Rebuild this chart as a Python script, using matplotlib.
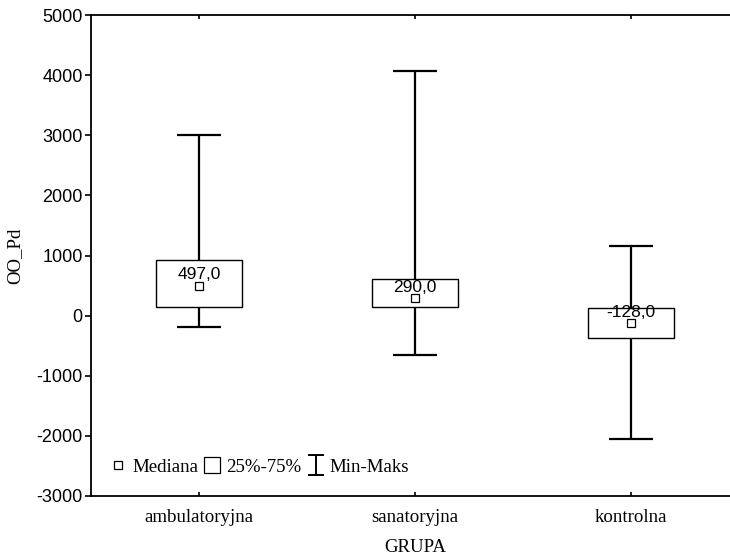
import matplotlib
matplotlib.use("Agg")
import matplotlib.pyplot as plt
import numpy as np
from matplotlib.lines import Line2D
from matplotlib.path import Path

plt.rcParams['axes.unicode_minus'] = False

categories = ["ambulatoryjna", "sanatoryjna", "kontrolna"]
mins = [-185, -656, -2050]
q1 = [138, 138, -376]
medians = [497, 290, -128]
q3 = [925, 604, 131]
maxs = [3000, 4070, 1163]
yticks = [-3000, -2000, -1000, 0, 1000, 2000, 3000, 4000, 5000]

SERIF = "Liberation Serif"
SANS = "Liberation Sans"

fig = plt.figure(figsize=(7.3, 5.56), dpi=100)
ax = fig.add_axes([91/730, 60/556, 648/730, 481/556])

pos = np.arange(1, len(categories) + 1)
mins_a, q1_a, med_a, q3_a, maxs_a = map(np.array, (mins, q1, medians, q3, maxs))

# whiskers
ax.vlines(pos, mins_a, maxs_a, color="black", lw=1.6, zorder=1)
ax.hlines(mins_a, pos - 0.1, pos + 0.1, color="black", lw=1.6, zorder=1)
ax.hlines(maxs_a, pos - 0.1, pos + 0.1, color="black", lw=1.6, zorder=1)
# boxes
ax.bar(pos, q3_a - q1_a, bottom=q1_a, width=0.4, facecolor="white",
       edgecolor="black", lw=1.0, zorder=2)
# medians
ax.plot(pos, med_a, "s", ls="none", mfc="white", mec="black", mew=0.9, ms=5.5, zorder=3)
for x, m in zip(pos, med_a):
    ax.annotate(f"{m:.1f}".replace(".", ","), (x, m), xytext=(0, 4.5),
                textcoords="offset points", ha="center", va="baseline",
                fontsize=12.5, family=SANS, zorder=4)

ax.set_xlim(0.5, 3.5)
ax.set_ylim(-3000, 5000)
ax.set_yticks(yticks)
ax.set_yticklabels([str(t) for t in yticks], family=SANS, fontsize=13)
ax.set_xticks(pos)
ax.set_xticklabels(categories, family=SERIF, fontsize=13.6)
ax.tick_params(axis="y", direction="out", length=4, width=1.2, pad=2)
ax.tick_params(axis="x", direction="in", length=3, width=1.2, pad=9, top=True)
for s in ax.spines.values():
    s.set_linewidth(1.3)

ax.set_xlabel("GRUPA", family=SERIF, fontsize=13.6, labelpad=10)
ax.set_ylabel("OO_Pd", family=SERIF, fontsize=13.6)
ax.yaxis.set_label_coords(-0.105, 0.5)

# legend
imarker = Path([(-0.4, 0.5), (0.4, 0.5), (0, 0.5), (0, -0.5), (-0.4, -0.5), (0.4, -0.5)],
               [Path.MOVETO, Path.LINETO, Path.MOVETO, Path.LINETO, Path.MOVETO, Path.LINETO])
handles = [
    Line2D([], [], marker="s", ls="none", mfc="white", mec="black", mew=0.9, ms=6),
    Line2D([], [], marker="s", ls="none", mfc="white", mec="black", mew=0.9, ms=11),
    Line2D([], [], marker=imarker, ls="none", color="black", mew=1.4, ms=15),
]
leg = ax.legend(handles, ["Mediana", "25%-75%", "Min-Maks"], ncol=3, frameon=False,
                loc="center left", bbox_to_anchor=(0.0285, 0.06),
                prop={"family": SERIF, "size": 13.6}, handlelength=0.9,
                handletextpad=0.3, columnspacing=0.3, borderpad=0, borderaxespad=0)

fig.savefig("out.png", dpi=100)
